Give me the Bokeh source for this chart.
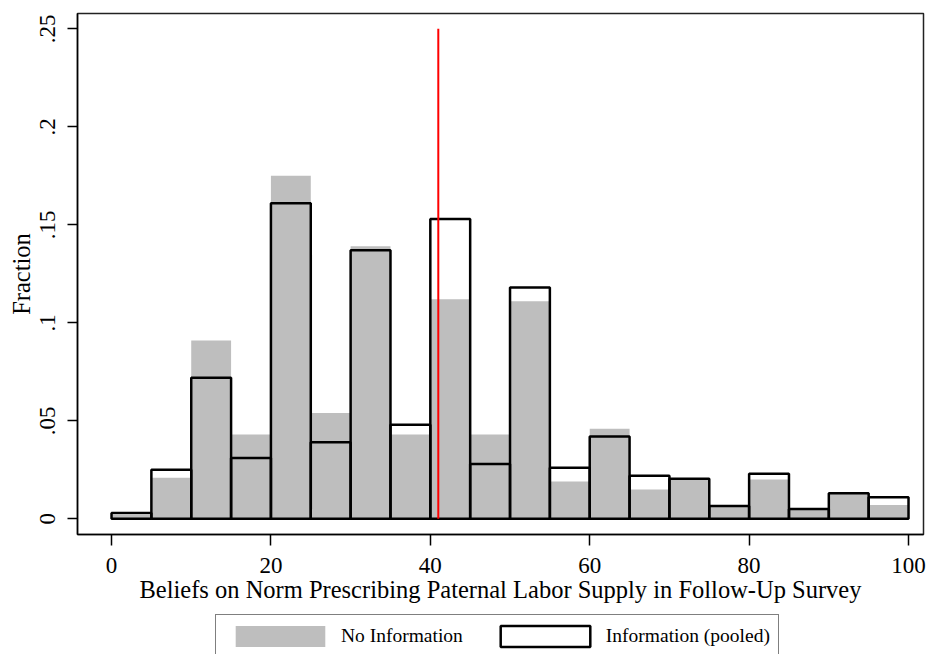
from bokeh.plotting import figure
from bokeh.models import Range1d, FixedTicker, Legend, LegendItem, ColumnDataSource
from bokeh.layouts import column
from bokeh.embed import file_html
from bokeh.resources import INLINE

# ---- data ----
bin_left = [0, 5, 10, 15, 20, 25, 30, 35, 40, 45, 50, 55, 60, 65, 70, 75, 80, 85, 90, 95]
bin_width = 5
no_information = [0.002, 0.021, 0.091, 0.043, 0.175, 0.054, 0.139, 0.043, 0.112, 0.043,
                  0.111, 0.019, 0.046, 0.015, 0.020, 0.006, 0.020, 0.005, 0.013, 0.007]
information_pooled = [0.003, 0.025, 0.072, 0.031, 0.161, 0.039, 0.137, 0.048, 0.153, 0.028,
                      0.118, 0.026, 0.042, 0.022, 0.0205, 0.0065, 0.023, 0.005, 0.013, 0.011]
red_line_x = 41
red_line_top = 0.25
x_ticks = [0, 20, 40, 60, 80, 100]
y_ticks = [0, 0.05, 0.1, 0.15, 0.2, 0.25]
y_tick_labels = ["0", ".05", ".1", ".15", ".2", ".25"]
legend_labels = ["No Information", "Information (pooled)"]
x_title = "Beliefs on Norm Prescribing Paternal Labor Supply in Follow-Up Survey"
y_title = "Fraction"

FONT = "Liberation Serif"
GRAY = "#bebebe"

src = ColumnDataSource(dict(
    left=bin_left,
    right=[b + bin_width for b in bin_left],
    bottom=[0] * len(bin_left),
    no_info=no_information,
    info=information_pooled,
))

# ---------------- main chart ----------------
p = figure(width=930, height=614, output_backend="svg", toolbar_location=None,
           x_range=Range1d(-4.27, 101.88), y_range=Range1d(-0.008, 0.2578),
           min_border_left=77, min_border_right=7, min_border_top=13, min_border_bottom=80)

p.xgrid.visible = False
p.ygrid.visible = False
p.background_fill_color = "white"
p.border_fill_color = "white"
p.outline_line_color = "#222222"
p.outline_line_width = 1.5

p.quad(left="left", right="right", top="no_info", bottom="bottom", source=src,
       fill_color=GRAY, line_color=None)
p.quad(left="left", right="right", top="info", bottom="bottom", source=src,
       fill_color=None, line_color="black", line_width=2.5)
p.segment(x0=[red_line_x], y0=[0], x1=[red_line_x], y1=[red_line_top],
          line_color="red", line_width=2)

for ax in (p.xaxis[0], p.yaxis[0]):
    ax.axis_line_color = "black"
    ax.axis_line_width = 1.5
    ax.major_tick_line_color = "black"
    ax.major_tick_line_width = 1.5
    ax.major_tick_in = 0
    ax.minor_tick_line_color = None
    ax.major_label_text_font = FONT
    ax.major_label_text_font_size = "23px"
    ax.major_label_text_color = "black"
    ax.axis_label_text_font = FONT
    ax.axis_label_text_font_size = "24.5px"
    ax.axis_label_text_font_style = "normal"
    ax.axis_label_text_color = "black"

p.xaxis.ticker = FixedTicker(ticks=x_ticks)
p.xaxis.major_tick_out = 11
p.xaxis.major_label_standoff = 12
p.xaxis.axis_label = x_title
p.xaxis.axis_label_standoff = 0

p.yaxis.ticker = FixedTicker(ticks=y_ticks)
p.yaxis.major_label_overrides = {t: l for t, l in zip(y_ticks, y_tick_labels)}
p.yaxis.major_label_orientation = "vertical"
p.yaxis.major_tick_out = 10
p.yaxis.major_label_standoff = 12
p.yaxis.axis_label = y_title
p.yaxis.axis_label_standoff = 3

# ---------------- legend strip (cut off at the window bottom) ----------------
lg = figure(width=930, height=40, output_backend="svg", toolbar_location=None,
            x_range=Range1d(0, 1), y_range=Range1d(0, 1),
            x_axis_location=None, y_axis_location=None,
            min_border_left=0, min_border_right=0, min_border_top=0, min_border_bottom=0)
lg.xgrid.visible = False
lg.ygrid.visible = False
lg.outline_line_color = None
lg.background_fill_color = "white"
lg.border_fill_color = "white"

l_no = lg.quad(left="left", right="right", top="no_info", bottom="bottom", source=src,
               fill_color=GRAY, line_color=None, visible=False)
l_info = lg.quad(left="left", right="right", top="info", bottom="bottom", source=src,
                 fill_color=None, line_color="black", line_width=2.5, visible=False)

legend = Legend(items=[LegendItem(label=legend_labels[0], renderers=[l_no]),
                       LegendItem(label=legend_labels[1], renderers=[l_info])],
                orientation="horizontal", location=(138, -4),
                label_text_font=FONT, label_text_font_size="19.5px",
                label_text_color="black",
                glyph_width=112, glyph_height=26, label_standoff=5, spacing=26,
                padding=8, margin=0, border_line_color="black", border_line_width=1.5,
                background_fill_color="white", background_fill_alpha=1.0,
                click_policy="none")
lg.add_layout(legend, "center")

layout = column(p, lg, spacing=0)
open("out.html", "w").write(file_html(layout, INLINE))
